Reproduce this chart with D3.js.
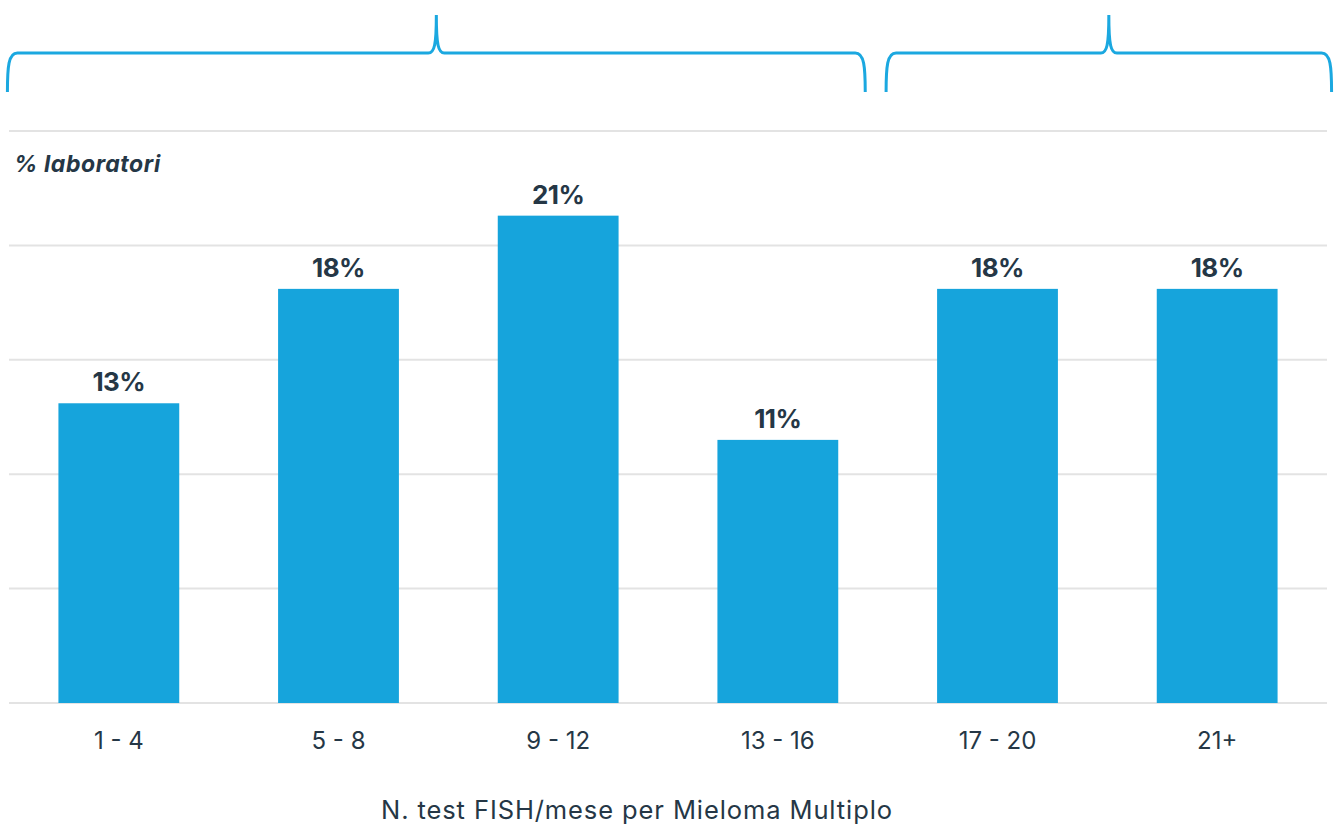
<!DOCTYPE html>
<html>
<head>
<meta charset="utf-8">
<script src="https://cdn.jsdelivr.net/npm/d3@7"></script>
<style>
  html, body { margin: 0; padding: 0; background: #fff; }
  svg { display: block; font-family: Inter, "Open Sans", sans-serif; }
</style>
</head>
<body>
<svg id="chart" width="1338" height="825"></svg>
<script>
// --- data ---
const categories = ["1 - 4", "5 - 8", "9 - 12", "13 - 16", "17 - 20", "21+"];
const values = [13.1, 18.1, 21.3, 11.5, 18.1, 18.1];
const valueLabels = ["13%", "18%", "21%", "11%", "18%", "18%"];
const gridTicks = [0, 5, 10, 15, 20, 25];
const groups = [["1 - 4", "13 - 16"], ["17 - 20", "21+"]];
const yTitle = "% laboratori";
const xTitle = "N. test FISH/mese per Mieloma Multiplo";

const BAR = "#16a4dc", BRACE = "#1ba8e0", TEXT = "#253746", GRID = "#e3e3e3";

const svg = d3.select("#chart");

const x = d3.scaleBand().domain(categories).range([9, 1327]).paddingInner(0.45).paddingOuter(0.225);
const y = d3.scaleLinear().domain([0, 25]).range([703, 131]);

// gridlines
svg.append("g").selectAll("line").data(gridTicks).join("line")
  .attr("x1", 9).attr("x2", 1327)
  .attr("y1", d => y(d)).attr("y2", d => y(d))
  .attr("stroke", GRID).attr("stroke-width", 2);

// bars
svg.append("g").selectAll("rect").data(values).join("rect")
  .attr("x", (d, i) => x(categories[i]))
  .attr("y", d => y(d))
  .attr("width", x.bandwidth())
  .attr("height", d => y(0) - y(d))
  .attr("fill", BAR);

// value labels
svg.append("g").selectAll("text").data(values).join("text")
  .attr("x", (d, i) => x(categories[i]) + x.bandwidth() / 2)
  .attr("y", d => y(d) - 12)
  .attr("text-anchor", "middle")
  .attr("font-size", 26).attr("font-weight", 700)
  .attr("letter-spacing", -0.5)
  .attr("fill", TEXT)
  .text((d, i) => valueLabels[i]);

// x axis labels
const xAxis = svg.append("g").attr("transform", `translate(0,${y(0)})`)
  .call(d3.axisBottom(x).tickSize(0).tickPadding(29));
xAxis.select(".domain").remove();
xAxis.selectAll("text").attr("font-size", 24).attr("fill", TEXT).attr("font-family", "Inter, sans-serif");

// axis titles
svg.append("text").attr("x", 14).attr("y", 172)
  .attr("font-size", 23).attr("font-weight", 700).attr("font-style", "italic")
  .attr("letter-spacing", 0.6)
  .attr("fill", TEXT).text(yTitle);

svg.append("text").attr("x", 637).attr("y", 819)
  .attr("text-anchor", "middle").attr("font-size", 25.5)
  .attr("letter-spacing", 0.9)
  .attr("fill", TEXT).text(xTitle);

// braces above groups
const braceY = 53, braceEnd = 92, braceTip = 15;
function bracePath(x0, x1) {
  const pk = (x0 + x1) / 2;
  return `M${x0},${braceEnd} C${x0},${braceY + 14} ${x0 + 1},${braceY} ${x0 + 10},${braceY}` +
    ` L${pk - 8},${braceY} C${pk - 2},${braceY} ${pk},${braceY - 8} ${pk},${braceTip}` +
    ` C${pk},${braceY - 8} ${pk + 2},${braceY} ${pk + 8},${braceY}` +
    ` L${x1 - 10},${braceY} C${x1 - 1},${braceY} ${x1},${braceY + 14} ${x1},${braceEnd}`;
}
svg.append("g").selectAll("path").data(groups).join("path")
  .attr("d", (g, i) => {
    const x0 = x(g[0]) - 51;
    const x1 = x(g[1]) + x.bandwidth() + (i === groups.length - 1 ? 54 : 27);
    return bracePath(x0, x1);
  })
  .attr("fill", "none").attr("stroke", BRACE).attr("stroke-width", 3);
</script>
</body>
</html>
